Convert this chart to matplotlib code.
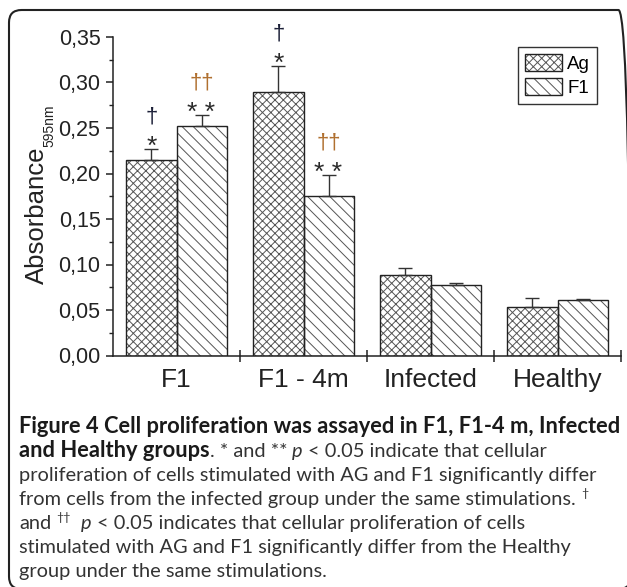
import matplotlib

matplotlib.use("Agg")
import matplotlib.patches as mpatches
import matplotlib.pyplot as plt
import numpy as np
from matplotlib.ticker import FuncFormatter, MultipleLocator

# Data
groups = ["F1", "F1 - 4m", "Infected", "Healthy"]
ag_mean = [0.215, 0.290, 0.089, 0.053]
ag_err = [0.012, 0.028, 0.007, 0.010]
f1_mean = [0.252, 0.175, 0.078, 0.061]
f1_err = [0.012, 0.023, 0.002, 0.001]
ag_marks = [("*", "\u2020"), ("*", "\u2020"), None, None]
f1_marks = [("* *", "\u2020\u2020"), ("* *", "\u2020\u2020"), None, None]

caption_lines = [
    [("Figure 4 Cell proliferation was assayed in F1, F1-4 m, Infected", "b")],
    [("and Healthy groups", "b"), (". * and ** ", "r"), ("p", "i"),
     (" < 0.05 indicate that cellular", "r")],
    [("proliferation of cells stimulated with AG and F1 significantly differ", "r")],
    [("from cells from the infected group under the same stimulations. ", "r"),
     ("\u2020", "sup")],
    [("and ", "r"), ("\u2020\u2020", "sup"), (" ", "r"), ("p", "i"),
     (" < 0.05 indicates that cellular proliferation of cells", "r")],
    [("stimulated with AG and F1 significantly differ from the Healthy", "r")],
    [("group under the same stimulations.", "r")],
]

W, H = 627, 587
plt.rcParams["font.family"] = ["Liberation Sans", "DejaVu Sans"]
plt.rcParams["hatch.linewidth"] = 0.7

fig = plt.figure(figsize=(W / 100, H / 100), dpi=100)


def fx(x):
    return x / W


def fy(y):
    return 1 - y / H


# outer rounded frame (bottom/right run off the picture)
frame = mpatches.FancyBboxPatch(
    (fx(9), fy(589)), fx(631) - fx(9), fy(10) - fy(589),
    boxstyle="round,pad=0,rounding_size=0.02",
    transform=fig.transFigure, facecolor="none", edgecolor="#222222",
    linewidth=1.5, mutation_aspect=W / H,
)
fig.add_artist(frame)

ax = fig.add_axes([fx(113), fy(355.5), fx(621) - fx(113), fy(37) - fy(355.5)])

x = np.arange(len(groups))
width = 0.394
dark = "#222222"
hatch_col = "#555555"

# hatch layer (grey) + outline layer (dark)
ag_h = ax.bar(x - width / 2, ag_mean, width, facecolor="white", edgecolor=hatch_col,
              hatch="xxxx", linewidth=0, zorder=2)
ag_o = ax.bar(x - width / 2, ag_mean, width, facecolor="none", edgecolor=dark,
              linewidth=1.0, zorder=2.1)
f1_h = ax.bar(x + width / 2, f1_mean, width, facecolor="white", edgecolor=hatch_col,
              hatch="\\\\\\", linewidth=0, zorder=2)
f1_o = ax.bar(x + width / 2, f1_mean, width, facecolor="none", edgecolor=dark,
              linewidth=1.0, zorder=2.1)

for xs, means, errs in [(x - width / 2, ag_mean, ag_err), (x + width / 2, f1_mean, f1_err)]:
    ax.errorbar(xs, means, yerr=[np.zeros(len(errs)), errs], fmt="none",
                ecolor="#333333", elinewidth=1.0, capsize=5, capthick=1.0, zorder=3)

# significance marks
for xs, means, errs, marks in [(x - width / 2, ag_mean, ag_err, ag_marks),
                               (x + width / 2, f1_mean, f1_err, f1_marks)]:
    for xi, m, e, mk in zip(xs, means, errs, marks):
        if mk is None:
            continue
        ax.annotate(mk[0], (xi, m + e), xytext=(0, -3.4), textcoords="offset points",
                    ha="center", va="baseline", fontsize=19, color="#2a2a2a")
        dag_color = "#b07030" if len(mk[1]) > 1 else "#1c2038"
        ax.annotate(mk[1], (xi, m + e), xytext=(0, 19), textcoords="offset points",
                    ha="center", va="baseline", fontsize=16, color=dag_color)

ax.set_xlim(-0.5, 3.5)
ax.set_ylim(0, 0.35)
ax.spines["top"].set_visible(False)
ax.spines["right"].set_visible(False)
for s in ("left", "bottom"):
    ax.spines[s].set_linewidth(1.1)
    ax.spines[s].set_color(dark)

ax.set_xticks(x, groups)
ax.set_xticks([0.5, 1.5, 2.5, 3.5], minor=True)
ax.tick_params(axis="x", which="major", length=0, pad=9, labelsize=19, colors=dark)
ax.tick_params(axis="x", which="minor", direction="inout", length=8, width=1.1, colors=dark)

ax.yaxis.set_major_locator(MultipleLocator(0.05))
ax.yaxis.set_minor_locator(MultipleLocator(0.025))
ax.yaxis.set_major_formatter(FuncFormatter(lambda v, _: f"{v:.2f}".replace(".", ",")))
ax.tick_params(axis="y", which="major", length=5, width=1.1, pad=4, labelsize=15.5, colors=dark)
ax.tick_params(axis="y", which="minor", length=3, width=1.0, colors=dark)

leg = ax.legend([(ag_h, ag_o), (f1_h, f1_o)], ["Ag", "F1"],
                loc="upper left", bbox_to_anchor=(fx(518), fy(47)),
                bbox_transform=fig.transFigure, fancybox=False, edgecolor="#333333",
                fontsize=13.5, handlelength=2.0, handleheight=1.07, handletextpad=0.27,
                labelspacing=0.27, borderpad=0.35, borderaxespad=0, framealpha=1)
leg.get_frame().set_linewidth(1.0)

# y label with separate subscript
fig.text(fx(43.5), fy(215), "Absorbance", rotation=90, rotation_mode="anchor",
         ha="center", va="baseline", fontsize=18.5, color=dark)
fig.text(fx(53), fy(126), "595nm", rotation=90, rotation_mode="anchor",
         ha="center", va="baseline", fontsize=10, color=dark)

# caption
renderer = fig.canvas.get_renderer()
cap_font = ["Lato", "DejaVu Sans"]


def style_kw(sty, fs_b, fs_r):
    if sty == "b":
        return dict(fontsize=fs_b, fontweight="bold", color="#1a1a1a", family=cap_font)
    if sty == "i":
        return dict(fontsize=fs_r, fontstyle="italic", color="#333333", family=cap_font)
    if sty == "sup":
        return dict(fontsize=fs_r * 0.62, color="#333333", family=cap_font)
    return dict(fontsize=fs_r, color="#333333", family=cap_font)


def text_width(s, **kw):
    t = fig.text(0, 0, s, **kw)
    w = t.get_window_extent(renderer).width
    t.remove()
    return w


base = 12.0
fs_b = base * 596 / text_width(caption_lines[0][0][0], **style_kw("b", base, base))
fs_r = base * 578 / text_width(caption_lines[2][0][0], **style_kw("r", base, base))

space_w = {}
for sty in ("b", "r", "i", "sup"):
    kw = style_kw(sty, fs_b, fs_r)
    space_w[sty] = text_width("a a", **kw) - text_width("aa", **kw)

x0 = 19
baselines = [433, 457, 481, 505, 529, 553, 577]
for pieces, yb in zip(caption_lines, baselines):
    xp = x0
    for txt, sty in pieces:
        kw = style_kw(sty, fs_b, fs_r)
        core = txt.strip(" ")
        lead = len(txt) - len(txt.lstrip(" "))
        trail = len(txt) - len(txt.rstrip(" "))
        xp += lead * space_w[sty]
        if core:
            y = yb - (fs_r * 0.42 * 100 / 72 if sty == "sup" else 0)
            fig.text(fx(xp), fy(y), core, ha="left", va="baseline", **kw)
            xp += text_width(core, **kw)
        xp += trail * space_w[sty]

fig.savefig("out.png", dpi=100)
